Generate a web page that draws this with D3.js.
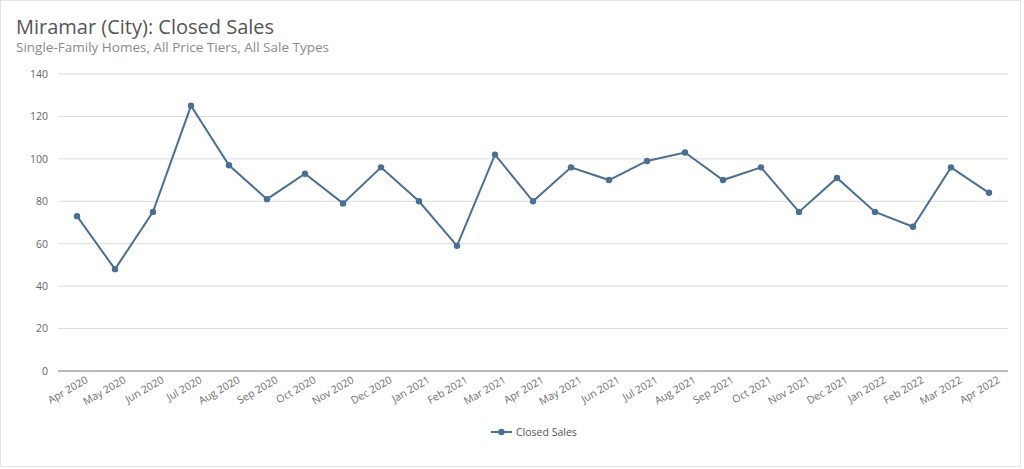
<!DOCTYPE html>
<html>
<head>
<script src="https://d3js.org/d3.v7.min.js"></script>
<style>
  body { margin: 0; background: #fff; }
  text { font-family: "Open Sans", "Noto Sans", sans-serif; }
  .grid line { stroke: #dcdcdc; stroke-width: 1px; }
  .tick text { font-size: 10.5px; }
</style>
</head>
<body>
<svg id="chart" width="1024" height="469"></svg>
<script>
// data
const months = ["Apr 2020","May 2020","Jun 2020","Jul 2020","Aug 2020","Sep 2020","Oct 2020","Nov 2020","Dec 2020",
                "Jan 2021","Feb 2021","Mar 2021","Apr 2021","May 2021","Jun 2021","Jul 2021","Aug 2021","Sep 2021",
                "Oct 2021","Nov 2021","Dec 2021","Jan 2022","Feb 2022","Mar 2022","Apr 2022"];
const closedSales = [73,48,75,125,97,81,93,79,96,80,59,102,80,96,90,99,103,90,96,75,91,75,68,96,84];
const yTicks = [0,20,40,60,80,100,120,140];

const svg = d3.select("#chart");
const lineColor = "#4b6f92";

// outer frame
svg.append("rect")
   .attr("x",0.5).attr("y",0.5).attr("width",1020).attr("height",466)
   .attr("fill","#fff").attr("stroke","#e4e4e4");

svg.append("text").attr("x",16).attr("y",34)
   .attr("font-size","20px").attr("fill","#555")
   .text("Miramar (City): Closed Sales");
svg.append("text").attr("x",16).attr("y",52)
   .attr("font-size","13.5px").attr("fill","#8a8a8a")
   .text("Single-Family Homes, All Price Tiers, All Sale Types");

const plotLeft = 58, plotRight = 1008, plotTop = 74, plotBottom = 371;

const x = d3.scalePoint().domain(months).range([77, 989]);
const y = d3.scaleLinear().domain([0,140]).range([plotBottom, plotTop]);

// gridlines
svg.append("g").attr("class","grid")
   .selectAll("line").data(yTicks.filter(d => d > 0)).join("line")
   .attr("x1",plotLeft).attr("x2",plotRight)
   .attr("y1",d => y(d)).attr("y2",d => y(d));

// y axis labels
const yAxis = svg.append("g")
   .attr("transform",`translate(${plotLeft},0)`)
   .call(d3.axisLeft(y).tickValues(yTicks).tickSize(0).tickPadding(10));
yAxis.select(".domain").remove();
yAxis.selectAll(".tick text").attr("fill","#666");

// x axis baseline
svg.append("line").attr("x1",plotLeft).attr("x2",plotRight)
   .attr("y1",plotBottom).attr("y2",plotBottom)
   .attr("stroke","#777").attr("stroke-width",1.2);

const xAxis = svg.append("g")
   .attr("transform",`translate(0,${plotBottom})`)
   .call(d3.axisBottom(x).tickSize(0));
xAxis.select(".domain").remove();
xAxis.selectAll(".tick text")
   .attr("fill","#707070")
   .attr("text-anchor","end")
   .attr("dx","0.4em").attr("dy","1.15em")
   .attr("transform","rotate(-30)");

// the line
const line = d3.line().x((d,i) => x(months[i])).y(d => y(d));
svg.append("path").datum(closedSales)
   .attr("d",line).attr("fill","none")
   .attr("stroke",lineColor).attr("stroke-width",2);

svg.append("g").selectAll("circle").data(closedSales).join("circle")
   .attr("cx",(d,i) => x(months[i])).attr("cy",d => y(d))
   .attr("r",3.2).attr("fill",lineColor);

// legend
const lg = svg.append("g").attr("transform","translate(491,432)");
lg.append("line").attr("x1",0).attr("x2",21).attr("stroke",lineColor).attr("stroke-width",2);
lg.append("circle").attr("cx",10.5).attr("r",3.2).attr("fill",lineColor);
lg.append("text").attr("x",25).attr("y",4).attr("font-size","10.5px").attr("fill","#555")
  .text("Closed Sales");
</script>
</body>
</html>
